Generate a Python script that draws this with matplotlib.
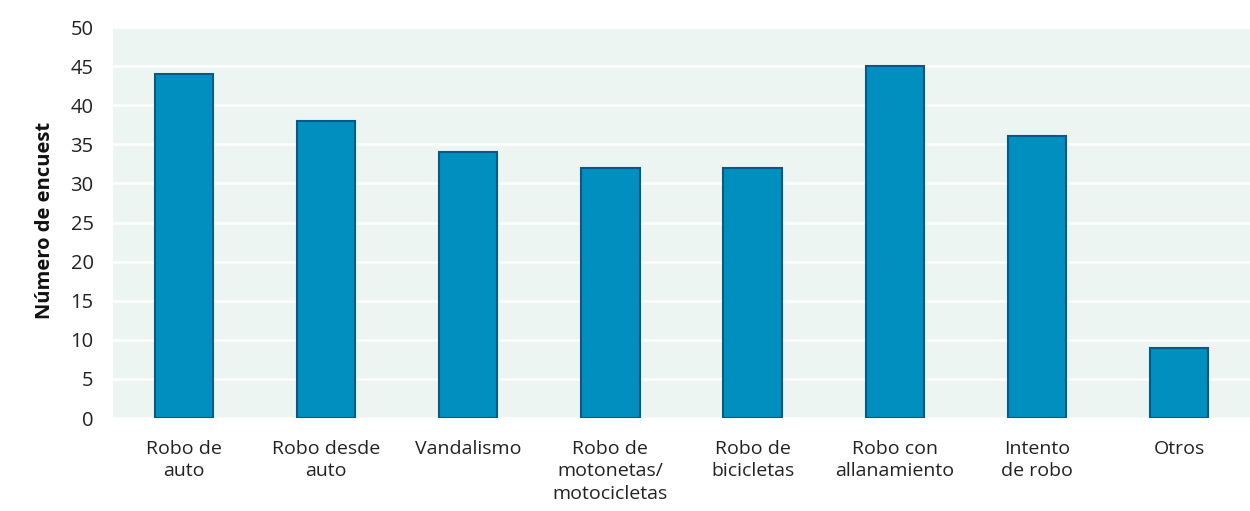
import matplotlib.pyplot as plt
import matplotlib

plt.rcParams['font.family'] = ['Open Sans', 'DejaVu Sans']

categorias = ['Robo de\nauto', 'Robo desde\nauto', 'Vandalismo', 'Robo de\nmotonetas/\nmotocicletas',
              'Robo de\nbicicletas', 'Robo con\nallanamiento', 'Intento\nde robo', 'Otros']
valores = [44, 38, 34, 32, 32, 45, 36, 9]
y_ticks = [0, 5, 10, 15, 20, 25, 30, 35, 40, 45, 50]

fig = plt.figure(figsize=(12.5, 5.11), dpi=100)
ax = fig.add_axes([113/1250, 1 - 418/511, (1250-113)/1250, (418-27)/511])

ax.set_facecolor('#ECF5F1')
x = range(len(categorias))
ax.bar(x, valores, width=0.41, color='#008FBE', edgecolor='#005B8A', linewidth=1.5, zorder=3)

ax.set_xlim(-0.5, len(categorias) - 0.5)
ax.set_ylim(0, 50)
ax.set_yticks(y_ticks)
ax.set_xticks(list(x))
ax.set_xticklabels(categorias, fontsize=14, color='#222222', linespacing=1.3)
ax.tick_params(axis='y', labelsize=14.5, labelcolor='#222222', length=0, pad=14)
ax.tick_params(axis='x', length=0, pad=16)
for lbl in ax.get_xticklabels():
    lbl.set_verticalalignment('top')

ax.grid(axis='y', color='white', linewidth=1.8, zorder=1)
for s in ax.spines.values():
    s.set_visible(False)

fig.text(45/1250, 1 - 220/511, 'Número de encuest', rotation=90, fontsize=14.5, fontweight='bold',
         ha='center', va='center', color='#111111')

fig.savefig('out.png', dpi=100)
